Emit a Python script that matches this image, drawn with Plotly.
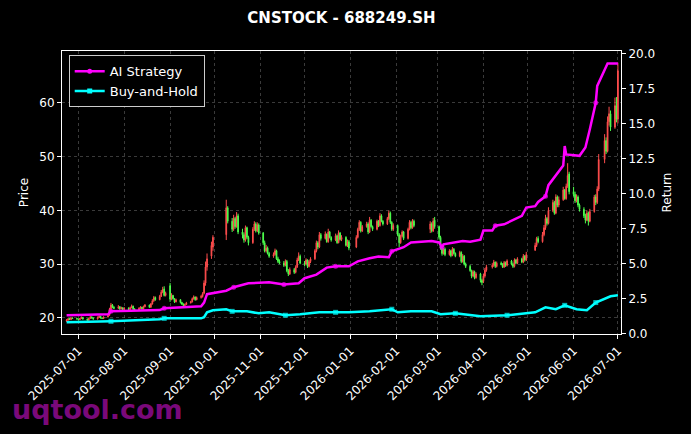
import pandas as pd
import plotly.graph_objects as go

# ---------------- data ----------------
holidays = ["2025-10-01", "2025-10-02", "2025-10-03", "2025-10-06", "2025-10-07", "2025-10-08",
            "2026-01-01", "2026-01-02", "2026-02-16", "2026-02-17", "2026-02-18", "2026-02-19",
            "2026-02-20", "2026-02-23", "2026-04-06", "2026-05-01", "2026-05-04", "2026-05-05",
            "2026-06-19"]
trade_dates = [d for d in pd.bdate_range("2025-06-23", "2026-07-01")
               if d.strftime("%Y-%m-%d") not in holidays]

opens = [
    19.4, 19.6, 19.9, 19.7, 20.0, 19.9,
    19.8, 19.7, 19.9, 20.1, 19.8, 19.6, 19.9, 20.2, 20.0, 19.8, 20.1, 20.3, 20.0, 19.9, 20.2, 20.5, 21.6, 22.4, 22.0, 21.8, 22.1, 21.7, 21.9,
    21.6, 21.8, 21.6, 21.9, 22.2, 21.7, 21.5, 21.8, 22.0, 21.7, 22.1, 22.4, 22.0, 22.6, 23.2, 23.8, 23.4, 24.0, 24.8, 25.4, 24.2,
    26.0, 23.5, 24.2, 23.6, 23.0, 23.4, 22.9, 22.6, 22.3, 22.5, 22.8, 23.0, 23.6, 23.9, 23.4, 23.8, 24.0, 24.6, 26.5, 29.5, 31.5, 33.2,
    35.5, 40.5, 38.0, 36.5, 38.5, 37.0, 39.0, 36.0, 35.5, 34.5, 36.8, 35.0, 34.0, 36.5, 37.5, 36.2, 37.3,
    35.8, 34.0, 32.5, 33.0, 32.0, 31.5, 31.8, 32.5, 31.0, 30.5, 30.2, 29.8, 30.5, 28.8, 28.2, 29.0, 28.5, 29.5, 30.8, 31.5,
    30.2, 30.0, 30.8, 29.6, 30.5, 31.0, 32.5, 34.0, 33.2, 35.5, 34.8, 35.6, 34.2, 36.0, 35.0, 34.5, 35.3, 34.0, 35.8, 34.6, 35.0, 33.5, 34.2,
    33.2, 35.0, 36.5, 37.8, 36.2, 37.0, 37.5, 36.0, 38.2, 37.0, 36.5, 38.0, 37.2, 39.0, 38.0, 37.5, 38.5, 39.5, 37.8, 36.5,
    37.2, 35.5, 34.0, 35.2, 36.0, 34.8, 36.5, 37.8, 36.8, 38.0, 36.5, 37.5, 36.2, 38.2,
    37.0, 35.0, 33.0, 32.0, 32.8, 31.8, 32.5, 31.6, 32.8, 32.0, 31.5, 32.2, 30.5, 31.5, 30.0, 29.6, 28.8, 27.8, 28.6, 27.5, 28.2, 27.0,
    26.8, 27.8, 28.9, 29.5, 29.8, 30.4, 29.6, 30.2, 30.0, 29.5, 30.3, 29.8, 30.6, 30.0, 29.6, 30.8, 30.2, 31.0, 30.4, 31.5, 30.8,
    32.6, 33.5, 34.8, 34.2, 35.5, 36.8, 38.5, 37.6, 40.0, 41.5, 39.5, 42.5, 41.0, 42.0, 43.8, 42.2, 44.5, 46.8,
    43.5, 43.0, 41.8, 42.5, 41.0, 40.2, 39.0, 38.2, 39.5, 38.0, 39.8, 42.5, 41.5, 44.0, 49.5, 53.0, 51.0, 56.5, 58.0, 55.5, 59.5,
    57.0,
]
highs = [
    19.8, 20.0, 20.0, 20.2, 20.1, 20.0,
    19.9, 20.0, 20.3, 20.2, 19.9, 20.0, 20.4, 20.3, 20.1, 20.3, 20.5, 20.4, 20.1, 20.3, 20.6, 21.9, 22.8, 22.6, 22.2, 22.4, 22.2, 22.1, 22.0,
    22.0, 22.0, 22.1, 22.5, 22.3, 21.8, 22.0, 22.2, 22.1, 22.3, 22.6, 22.5, 22.8, 23.5, 24.1, 24.0, 24.3, 25.2, 25.8, 25.9, 24.9,
    26.5, 24.6, 24.3, 23.7, 23.6, 23.5, 23.0, 22.7, 22.7, 23.0, 23.2, 23.8, 24.2, 24.0, 24.0, 24.3, 24.8, 27.0, 30.5, 32.0, 34.2, 35.4,
    42.0, 40.8, 38.6, 39.2, 38.8, 39.7, 39.4, 36.6, 35.9, 37.2, 37.0, 35.3, 36.9, 38.0, 37.8, 37.8, 37.6,
    36.0, 34.4, 33.6, 33.3, 32.3, 32.2, 32.9, 32.7, 31.4, 30.9, 30.6, 30.9, 30.8, 29.1, 29.4, 29.3, 29.8, 31.2, 32.2, 31.8,
    30.6, 31.1, 30.9, 30.8, 31.3, 32.8, 34.4, 34.3, 36.0, 35.8, 36.1, 35.7, 36.6, 36.2, 35.2, 35.7, 35.5, 36.3, 36.0, 35.4, 35.2, 34.6, 34.5,
    35.4, 36.8, 38.2, 38.0, 37.3, 37.9, 37.8, 38.8, 38.4, 37.2, 38.3, 38.2, 39.5, 39.3, 38.2, 38.8, 40.0, 39.8, 38.0, 37.6,
    37.4, 35.8, 35.5, 36.3, 36.2, 36.8, 38.2, 38.1, 38.4, 38.3, 38.0, 37.8, 38.6, 38.8,
    37.2, 35.3, 33.4, 33.0, 33.1, 32.8, 32.7, 33.2, 33.0, 32.2, 32.5, 32.4, 31.9, 31.7, 30.3, 29.9, 29.0, 28.9, 28.8, 28.5, 28.4, 27.3,
    28.2, 29.3, 29.9, 30.2, 30.8, 30.5, 30.5, 30.5, 30.2, 30.6, 30.5, 30.9, 30.8, 30.3, 31.1, 31.0, 31.3, 31.2, 31.9, 31.7, 32.3,
    34.0, 35.1, 35.2, 36.0, 37.3, 39.2, 38.8, 40.6, 42.0, 41.8, 43.0, 42.8, 42.6, 44.4, 44.0, 45.0, 48.8, 47.2,
    44.4, 43.5, 43.0, 42.8, 41.3, 40.6, 39.4, 40.0, 39.8, 40.3, 42.9, 43.0, 44.5, 50.5, 54.2, 53.6, 57.5, 59.3, 58.6, 61.0, 61.1,
    67.5,
]
lows = [
    19.3, 19.5, 19.6, 19.6, 19.8, 19.7,
    19.5, 19.6, 19.8, 19.7, 19.5, 19.5, 19.8, 19.9, 19.7, 19.7, 20.0, 19.9, 19.8, 19.8, 20.1, 20.4, 21.4, 21.8, 21.6, 21.7, 21.5, 21.6, 21.4,
    21.5, 21.4, 21.5, 21.8, 21.5, 21.3, 21.4, 21.7, 21.6, 21.6, 22.0, 21.9, 21.9, 22.5, 23.0, 23.2, 23.3, 23.9, 24.6, 24.0, 24.0,
    23.0, 23.3, 23.4, 22.8, 22.9, 22.7, 22.4, 22.1, 22.2, 22.4, 22.7, 22.9, 23.4, 23.2, 23.3, 23.6, 23.8, 24.4, 26.0, 28.8, 31.0, 32.5,
    34.5, 37.6, 36.0, 36.2, 36.6, 36.8, 35.6, 34.8, 34.0, 34.2, 34.7, 33.5, 33.8, 36.2, 35.9, 36.0, 35.5,
    33.6, 32.2, 32.2, 31.8, 31.2, 31.2, 31.6, 30.8, 30.2, 30.0, 29.5, 29.6, 28.5, 27.8, 28.0, 28.2, 28.3, 29.3, 30.6, 30.0,
    29.6, 29.8, 29.3, 29.4, 30.2, 30.8, 32.2, 32.8, 33.0, 34.4, 34.6, 34.0, 34.0, 34.8, 34.2, 34.3, 33.8, 33.9, 34.4, 34.3, 33.3, 33.2, 32.6,
    33.0, 34.8, 36.2, 35.9, 36.0, 36.8, 35.6, 35.8, 36.8, 36.2, 36.3, 36.9, 37.0, 37.8, 37.2, 37.3, 38.2, 37.5, 36.2, 36.2,
    35.2, 33.2, 33.8, 35.0, 34.5, 34.6, 36.3, 36.5, 36.6, 36.9, 35.8, 35.9, 36.0, 36.6,
    34.6, 32.7, 31.6, 31.8, 31.5, 31.6, 31.3, 31.5, 31.8, 31.3, 31.3, 30.2, 30.3, 29.8, 29.3, 28.6, 27.4, 27.6, 27.2, 27.3, 26.6, 26.1,
    26.5, 27.5, 28.6, 29.2, 29.5, 29.3, 29.4, 29.8, 29.3, 29.3, 29.5, 29.6, 29.8, 29.3, 29.4, 30.0, 30.0, 30.2, 30.2, 30.5, 30.6,
    32.5, 33.2, 33.9, 34.0, 35.2, 36.4, 37.2, 37.4, 39.7, 39.2, 39.3, 40.6, 40.6, 41.8, 42.0, 42.0, 44.2, 43.0,
    42.6, 41.4, 41.5, 40.6, 39.8, 38.6, 37.6, 38.0, 37.2, 37.8, 39.6, 41.0, 41.2, 43.6, 48.8, 50.5, 50.8, 55.8, 54.8, 55.2, 56.4,
    56.2,
]
closes = [
    19.6, 19.8, 19.7, 20.0, 19.9, 19.8,
    19.7, 19.9, 20.1, 19.8, 19.6, 19.9, 20.2, 20.0, 19.8, 20.1, 20.3, 20.0, 19.9, 20.2, 20.4, 21.6, 22.4, 22.0, 21.8, 22.1, 21.7, 21.9, 21.6,
    21.8, 21.6, 21.9, 22.2, 21.7, 21.5, 21.8, 22.0, 21.7, 22.1, 22.4, 22.0, 22.6, 23.2, 23.8, 23.4, 24.0, 24.8, 25.3, 24.2, 24.6,
    23.5, 24.2, 23.6, 23.0, 23.4, 22.9, 22.6, 22.3, 22.5, 22.8, 23.0, 23.6, 23.9, 23.4, 23.8, 24.0, 24.5, 26.5, 29.5, 31.0, 33.5, 35.0,
    40.5, 38.0, 36.5, 38.5, 37.0, 39.0, 36.0, 35.5, 34.5, 36.8, 35.0, 34.0, 36.5, 37.5, 36.2, 37.3, 35.8,
    34.0, 32.5, 33.0, 32.0, 31.5, 31.8, 32.5, 31.0, 30.5, 30.2, 29.8, 30.5, 28.8, 28.2, 29.0, 28.5, 29.5, 30.8, 31.5, 30.2,
    30.0, 30.8, 29.6, 30.5, 31.0, 32.5, 34.0, 33.2, 35.5, 34.8, 35.6, 34.2, 36.0, 35.0, 34.5, 35.3, 34.0, 35.8, 34.6, 35.0, 33.5, 34.2, 33.0,
    35.0, 36.5, 37.8, 36.2, 37.0, 37.5, 36.0, 38.2, 37.0, 36.5, 38.0, 37.2, 39.0, 38.0, 37.5, 38.5, 39.5, 37.8, 36.5, 37.2,
    35.5, 34.0, 35.2, 36.0, 34.8, 36.5, 37.8, 36.8, 38.0, 37.2, 37.5, 36.2, 38.0, 37.0,
    35.0, 33.0, 32.0, 32.8, 31.8, 32.5, 31.6, 32.8, 32.0, 31.5, 32.2, 30.5, 31.5, 30.0, 29.6, 28.8, 27.8, 28.6, 27.5, 28.2, 27.0, 26.6,
    27.8, 28.9, 29.5, 29.8, 30.4, 29.6, 30.2, 30.0, 29.5, 30.3, 29.8, 30.6, 30.0, 29.6, 30.8, 30.2, 31.0, 30.4, 31.5, 30.8, 31.8,
    33.5, 34.8, 34.2, 35.5, 36.8, 38.5, 37.6, 40.0, 41.5, 39.5, 42.5, 41.0, 42.0, 43.8, 42.2, 44.5, 46.5, 43.5,
    43.0, 41.8, 42.5, 41.0, 40.2, 39.0, 38.2, 39.5, 38.0, 39.8, 42.5, 41.5, 44.0, 49.5, 53.0, 51.0, 56.5, 58.0, 55.5, 59.5, 57.0,
    66.0,
]

ai_dates = ["2025-06-23", "2025-07-21", "2025-07-23", "2025-08-25", "2025-08-28", "2025-09-22", "2025-09-24",
            "2025-09-26", "2025-10-09", "2025-10-14", "2025-10-24", "2025-11-07", "2025-11-17", "2025-11-27",
            "2025-12-01", "2025-12-09", "2025-12-16", "2025-12-22", "2025-12-31", "2026-01-06", "2026-01-14",
            "2026-01-20", "2026-01-27", "2026-01-29", "2026-02-06", "2026-02-11", "2026-02-25", "2026-03-02",
            "2026-03-04", "2026-03-05", "2026-03-18", "2026-03-23", "2026-03-30", "2026-04-01", "2026-04-07",
            "2026-04-09", "2026-04-15", "2026-04-22", "2026-04-27", "2026-04-30", "2026-05-06", "2026-05-08",
            "2026-05-13", "2026-05-15", "2026-05-20", "2026-05-25", "2026-05-26", "2026-05-27", "2026-06-05",
            "2026-06-08", "2026-06-09", "2026-06-12", "2026-06-16", "2026-06-17", "2026-06-24", "2026-07-01"]
ai_values = [1.30, 1.36, 1.57, 1.66, 1.79, 1.93, 2.20, 2.80, 3.05, 3.30, 3.58, 3.65, 3.50, 3.58, 3.94, 4.20,
             4.70, 4.80, 4.80, 5.15, 5.37, 5.50, 5.44, 5.87, 6.16, 6.50, 6.60, 6.50, 6.15, 6.37, 6.60, 6.55,
             6.70, 7.35, 7.35, 7.70, 7.80, 8.16, 8.40, 9.00, 9.10, 9.40, 9.80, 10.60, 11.30, 12.00, 13.40,
             12.80, 12.70, 13.20, 13.30, 14.60, 16.50, 17.70, 19.30, 19.30]
ai_marker_dates = ["2025-07-23", "2025-08-28", "2025-10-14", "2025-11-17", "2025-12-22", "2026-01-29",
                   "2026-03-04", "2026-04-09", "2026-05-13", "2026-06-16"]

bh_dates = ["2025-06-23", "2025-07-23", "2025-08-25", "2025-08-28", "2025-09-22", "2025-09-24", "2025-09-26",
            "2025-09-30", "2025-10-09", "2025-10-13", "2025-10-23", "2025-10-31", "2025-11-07", "2025-11-18",
            "2025-11-28", "2025-12-11", "2025-12-22", "2025-12-31", "2026-01-14", "2026-01-29", "2026-02-02",
            "2026-02-11", "2026-02-25", "2026-03-03", "2026-03-13", "2026-03-30", "2026-04-17", "2026-05-06",
            "2026-05-13", "2026-05-20", "2026-05-26", "2026-06-03", "2026-06-10", "2026-06-16", "2026-06-26",
            "2026-07-01"]
bh_values = [0.79, 0.86, 1.00, 1.07, 1.07, 1.15, 1.50, 1.65, 1.72, 1.57, 1.57, 1.43, 1.50, 1.29, 1.36, 1.50,
             1.50, 1.50, 1.57, 1.72, 1.50, 1.57, 1.57, 1.36, 1.43, 1.22, 1.29, 1.50, 1.86, 1.72, 2.00, 1.72,
             1.65, 2.20, 2.65, 2.72]
bh_marker_dates = ["2025-07-23", "2025-08-28", "2025-10-13", "2025-11-18", "2025-12-22", "2026-01-29",
                   "2026-03-13", "2026-04-17", "2026-05-26", "2026-06-16"]

# ---------------- style ----------------
RED = "#ff4d4d"
GREEN = "#4dff4d"
MAGENTA = "#ff00ff"
CYAN = "#00ffff"
GRID = "rgba(128,128,128,0.45)"
FONT = "DejaVu Sans"

fig = go.Figure()

fig.add_trace(go.Candlestick(
    x=trade_dates, open=opens, high=highs, low=lows, close=closes,
    increasing=dict(line=dict(color=RED, width=1), fillcolor=RED),
    decreasing=dict(line=dict(color=GREEN, width=1), fillcolor=GREEN),
    whiskerwidth=0, showlegend=False, hoverinfo="skip", yaxis="y",
))

fig.add_trace(go.Scatter(
    x=ai_dates, y=ai_values, mode="lines+markers", yaxis="y2", showlegend=False,
    line=dict(color=MAGENTA, width=2.5),
    marker=dict(symbol="circle", color=MAGENTA, line=dict(width=0),
                size=[5 if d in ai_marker_dates else 0 for d in ai_dates]),
))
fig.add_trace(go.Scatter(
    x=bh_dates, y=bh_values, mode="lines+markers", yaxis="y2", showlegend=False,
    line=dict(color=CYAN, width=2.5),
    marker=dict(symbol="square", color=CYAN, line=dict(width=0),
                size=[5 if d in bh_marker_dates else 0 for d in bh_dates]),
))
# legend entries
fig.add_trace(go.Scatter(x=[None], y=[None], mode="lines+markers", name="AI Strategy", yaxis="y2",
                         line=dict(color=MAGENTA, width=2.5),
                         marker=dict(symbol="circle", size=5, color=MAGENTA, line=dict(width=0))))
fig.add_trace(go.Scatter(x=[None], y=[None], mode="lines+markers", name="Buy-and-Hold", yaxis="y2",
                         line=dict(color=CYAN, width=2.5),
                         marker=dict(symbol="square", size=5, color=CYAN, line=dict(width=0))))

axis_common = dict(showline=True, linecolor="white", linewidth=1, ticks="outside", tickcolor="white",
                   ticklen=4, tickfont=dict(color="white", size=12, family=FONT), zeroline=False)

fig.update_layout(
    width=691, height=434,
    paper_bgcolor="black", plot_bgcolor="black",
    margin=dict(l=62, r=70, t=51, b=100),
    font=dict(family=FONT, color="white"),
    title=dict(text="<b>CNSTOCK - 688249.SH</b>", x=0.5, xref="paper", xanchor="center",
               y=1 - 18 / 434, yref="container", yanchor="middle",
               font=dict(size=15, color="white", family=FONT)),
    xaxis=dict(type="date", range=["2025-06-19 21:00", "2026-07-03 02:00"],
               tickformat="%Y-%m-%d", dtick="M1", tick0="2025-07-01", tickangle=-45,
               mirror=True, showgrid=True, gridcolor=GRID, griddash="3px,3px", gridwidth=0.5,
               rangeslider=dict(visible=False), **axis_common),
    yaxis=dict(range=[17.02, 69.67], dtick=10, tick0=0, mirror=True,
               showgrid=True, gridcolor=GRID, griddash="3px,3px", gridwidth=0.5,
               title=dict(text="Price", font=dict(size=12, color="white", family=FONT), standoff=8),
               **axis_common),
    yaxis2=dict(overlaying="y", side="right", range=[-0.05, 20.2], dtick=2.5, tick0=0,
                tickformat=".1f", showgrid=False,
                title=dict(text="Return", font=dict(size=12, color="white", family=FONT), standoff=8),
                **axis_common),
    legend=dict(x=0.012, y=0.985, xanchor="left", yanchor="top", bgcolor="black",
                bordercolor="#cccccc", borderwidth=1,
                font=dict(size=13, color="white", family=FONT), tracegroupgap=0),
    annotations=[dict(text="<b>uqtool.com</b>", xref="paper", yref="paper",
                      x=(10 - 62) / 559, y=(334 - 409) / 283, xanchor="left", yanchor="middle",
                      showarrow=False, font=dict(size=27, color="rgba(135,10,135,0.92)", family=FONT))],
)

fig.write_html("out.html")
